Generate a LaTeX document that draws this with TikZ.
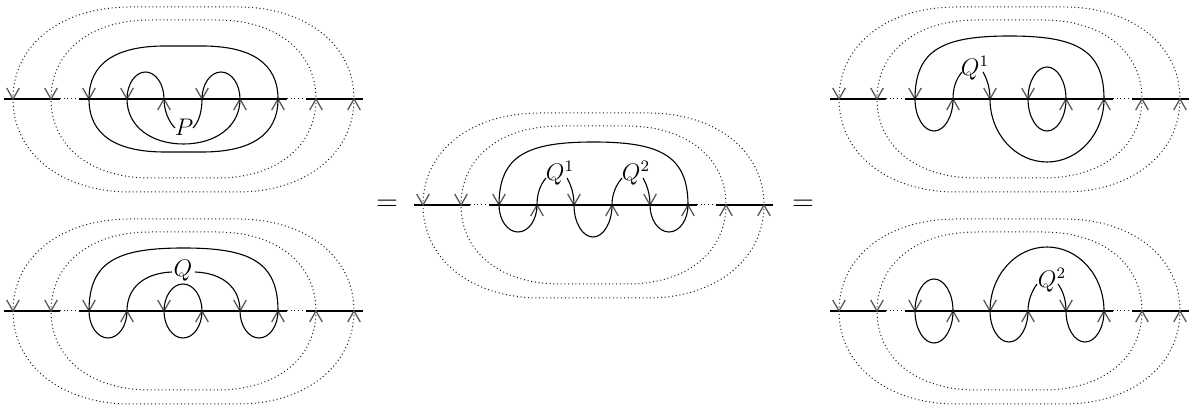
\documentclass[tikz,border=0pt]{standalone}
\tikzset{
  strand/.style={line width=0.55pt,black},
  guide/.style={line width=0.5pt,black!90,dash pattern=on 0.5pt off 1.35pt},
  tip/.style={line width=0.62pt,black!68},
  lab/.style={inner sep=0pt,font=\large},
  rel/.style={inner sep=0pt,font=\Large}
}
\newcommand{\frameparts}[2]{%
  % outer dotted loop
  \draw[guide] (13,0) .. controls (13,55) and (62,92) .. (130,92) -- (238,92)
     .. controls (305,92) and (354,55) .. (354,0)
     .. controls (354,-55) and (305,-93) .. (238,-93) -- (130,-93)
     .. controls (62,-93) and (13,-55) .. (13,0);
  % inner dotted loop
  \draw[guide] (51,0) .. controls (51,47) and (90,79) .. (150,79) -- (217,79)
     .. controls (277,79) and (316,47) .. (316,0)
     .. controls (316,-47) and (277,-79) .. (217,-79) -- (150,-79)
     .. controls (90,-79) and (51,-47) .. (51,0);
  % base line
  \draw[strand] (4,0) -- (60,0);
  \draw[guide] (60,0) -- (79,0);
  \draw[strand] (79,0) -- (287,0);
  \draw[guide] (287,0) -- (306,0);
  \draw[strand] (306,0) -- (363,0);
  \foreach \x in {#1} \draw[tip] (\x-6.3,11) -- (\x,0) -- (\x+6.3,11);
  \foreach \x in {#2} \draw[tip] (\x-6.3,-11) -- (\x,0) -- (\x+6.3,-11);
}
\newcommand{\hump}[3]{\draw[strand] (#1,0) arc[start angle=180,end angle=0,x radius={(#2-#1)/2},y radius=#3];}
\newcommand{\dip}[3]{\draw[strand] (#1,0) arc[start angle=180,end angle=360,x radius={(#2-#1)/2},y radius=#3];}
\newcommand{\bigarch}{\draw[strand] (89,0) .. controls (89,50) and (118,63) .. (183.5,63) .. controls (249,63) and (278,50) .. (278,0);}
\begin{document}
\begin{tikzpicture}[x=0.5pt,y=0.5pt]
\useasboundingbox (0,0) rectangle (1194,-405);
% top left
\begin{scope}[shift={(0,-99)}]
  \frameparts{13,51,89,127,202}{164,240,278,316,354}
  \draw[strand] (89,0) .. controls (89,36) and (116,53) .. (165,53) -- (202,53) .. controls (251,53) and (278,36) .. (278,0);
  \draw[strand] (89,0) .. controls (89,-36) and (116,-53) .. (165,-53) -- (202,-53) .. controls (251,-53) and (278,-36) .. (278,0);
  \draw[strand] (127,0) .. controls (127,-28) and (152,-45) .. (183.5,-45) .. controls (215,-45) and (240,-28) .. (240,0);
  \hump{127}{164}{27}
  \hump{202}{240}{27}
  \node[lab] (P) at (184,-28) {$P$};
  \draw[strand] (164,0) .. controls (164,-12) and (169,-23) .. (175,-29);
  \draw[strand] (202,0) .. controls (202,-12) and (199,-23) .. (193,-29);
\end{scope}
% bottom left
\begin{scope}[shift={(0,-311)}]
  \frameparts{13,51,89,164,240}{127,202,278,316,354}
  \bigarch
  \node[lab] (Q) at (183,40) {$Q$};
  \draw[strand] (127,0) .. controls (127,24) and (145,38) .. (172,39);
  \draw[strand] (240,0) .. controls (240,24) and (222,38) .. (195,39);
  \hump{164}{202}{27}
  \dip{164}{202}{27}
  \dip{89}{127}{27}
  \dip{240}{278}{27}
\end{scope}
% centre
\begin{scope}[shift={(410,-205)}]
  \frameparts{13,51,89,164,240}{127,202,278,316,354}
  \bigarch
  \node[lab] (Qa) at (150,32) {$Q^1$};
  \node[lab] (Qb) at (226,32) {$Q^2$};
  \draw[strand] (127,0) .. controls (127,11) and (130,20) .. (136,27);
  \draw[strand] (164,0) .. controls (164,11) and (161,20) .. (157,27);
  \draw[strand] (202,0) .. controls (202,11) and (206,20) .. (212,27);
  \draw[strand] (240,0) .. controls (240,11) and (237,20) .. (233,27);
  \dip{89}{127}{27}
  \dip{164}{202}{32}
  \dip{240}{278}{27}
\end{scope}
% top right
\begin{scope}[shift={(826,-99)}]
  \frameparts{13,51,89,164,202}{127,240,278,316,354}
  \bigarch
  \node[lab] (Qc) at (149,31) {$Q^1$};
  \draw[strand] (127,0) .. controls (127,11) and (130,20) .. (136,27);
  \draw[strand] (164,0) .. controls (164,11) and (161,20) .. (157,27);
  \dip{89}{127}{32}
  \hump{202}{240}{32}
  \dip{202}{240}{32}
  \dip{164}{278}{63}
\end{scope}
% bottom right
\begin{scope}[shift={(826,-311)}]
  \frameparts{13,51,89,164,240}{127,202,278,316,354}
  \hump{89}{127}{32}
  \dip{89}{127}{32}
  \hump{164}{278}{64}
  \node[lab] (Qd) at (226,31) {$Q^2$};
  \draw[strand] (202,0) .. controls (202,11) and (206,20) .. (211,27);
  \draw[strand] (240,0) .. controls (240,11) and (237,20) .. (232,27);
  \dip{164}{202}{31}
  \dip{240}{278}{31}
\end{scope}
\node[rel] (eqa) at (387,-205) {$=$};
\node[rel] (eqb) at (803,-205) {$=$};
\end{tikzpicture}
\end{document}
